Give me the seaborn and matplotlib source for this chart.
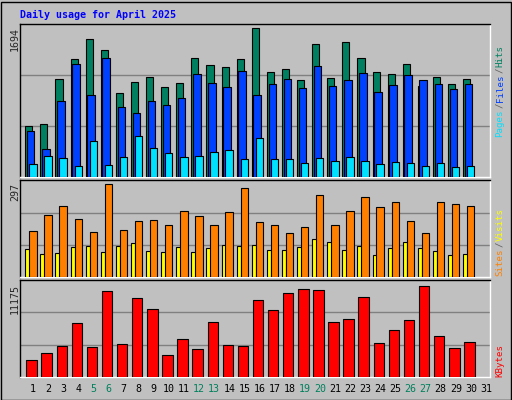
import numpy as np
import matplotlib
matplotlib.use('Agg')
import matplotlib.pyplot as plt
import seaborn as sns

days = list(range(1, 32))
weekend = [5, 6, 12, 13, 19, 20, 26, 27]

# values (30 days, day 31 empty)
hits = [578, 601, 1121, 1340, 1571, 1444, 955, 1082, 1140, 1024, 1070, 1359, 1278, 1255, 1348, 1694, 1197, 1232, 1104, 1521, 1128, 1544, 1359, 1197, 1174, 1290, 1035, 1140, 1059, 1121]
files = [520, 322, 862, 1290, 932, 1359, 793, 735, 862, 816, 897, 1174, 1070, 1024, 1209, 932, 1059, 1117, 1013, 1267, 1035, 1105, 1186, 966, 1047, 1163, 1105, 1059, 1001, 1059]
pages = [146, 239, 216, 123, 412, 135, 227, 470, 331, 274, 227, 239, 285, 308, 204, 447, 204, 204, 158, 216, 181, 227, 181, 146, 170, 158, 123, 158, 112, 123]
sites = [148, 200, 229, 187, 145, 297, 152, 178, 184, 168, 210, 194, 165, 207, 284, 175, 168, 142, 161, 262, 168, 213, 255, 225, 241, 180, 142, 241, 235, 229]
visits = [90, 74, 77, 97, 100, 81, 100, 110, 84, 81, 97, 81, 94, 103, 100, 103, 87, 87, 97, 123, 113, 87, 100, 71, 94, 113, 94, 84, 71, 74]
kbytes = [2087, 2947, 3807, 6631, 3684, 10560, 4052, 9700, 8350, 2701, 4666, 3438, 6754, 3930, 3807, 9455, 8227, 10314, 10806, 10683, 6754, 7122, 9823, 4175, 5771, 6999, 11175, 5034, 3561, 4298]

sns.set_style('white')
plt.rcParams['font.family'] = ['DejaVu Sans Mono']

BG = '#c0c0c0'
GRID = '#808080'
fig = plt.figure(figsize=(5.12, 4.0), dpi=100, facecolor=BG)
W, H = 512, 400

def add_ax(top, bottom):
    ax = fig.add_axes([20 / W, 1 - bottom / H, 470 / W, (bottom - top) / H])
    ax.set_facecolor(BG)
    ax.set_xlim(0.14, 31.27)
    ax.set_xticks([])
    ax.set_yticks([])
    for s in ax.spines.values():
        s.set_color('black')
        s.set_linewidth(1)
    ax.spines['bottom'].set_color('white')
    ax.spines['right'].set_color('white')
    return ax

d = np.array(days[:30])
kw = dict(align='edge', edgecolor='black', linewidth=0.8, zorder=3)

ax1 = add_ax(24, 177)
ax1.set_ylim(0, 1694 * 151 / 146.7)
for g in [1694 / 3 * 1.03, 1694 * 2 / 3 * 1.03]:
    ax1.axhline(g, color=GRID, lw=1, zorder=1)
ax1.bar(d - 0.51, hits, width=0.47, color='#008060', **kw)
ax1.bar(d - 0.40, files, width=0.5, color='#0040ff', **kw)
ax1.bar(d - 0.25, pages, width=0.49, color='#00e0ff', **kw)

ax2 = add_ax(180, 277)
ax2.set_ylim(0, 297 * 97 / 92.7)
for g in [297 / 3 * 1.03, 297 * 2 / 3 * 1.03]:
    ax2.axhline(g, color=GRID, lw=1, zorder=1)
ax2.bar(d - 0.51, visits, width=0.3, color='#ffff00', **kw)
ax2.bar(d - 0.25, sites, width=0.49, color='#ff8000', **kw)

ax3 = add_ax(280, 377)
ax3.set_ylim(0, 11175 * 97 / 91.5)
for g in [11175 / 3 * 1.06, 11175 * 2 / 3 * 1.06]:
    ax3.axhline(g, color=GRID, lw=1, zorder=1)
ax3.bar(d - 0.44, kbytes, width=0.69, color='#ff0000', **kw)

for day in days:
    x = (33 + (day - 1) * 15.1) / W
    fig.text(x, 1 - 389 / H, str(day), ha='center', va='center', fontsize=7.2,
             color='#00805c' if day in weekend else 'black')

fig.text(20 / W, 1 - 15 / H, 'Daily usage for April 2025', color='#0000ff',
         fontsize=7.2, fontweight='bold', va='center', ha='left')

for label, top in [('1694', 27), ('297', 183), ('11175', 284)]:
    fig.text(15 / W, 1 - top / H, label, rotation=90, ha='center', va='top', fontsize=7.2)

FS = 6.6
CH = FS * 100 / 72 * 0.602
def side(parts, bottom):
    y = bottom
    for txt, col in parts:
        fig.text(500 / W, 1 - y / H, txt, rotation=90, ha='center', va='bottom',
                 fontsize=FS, color=col)
        y -= len(txt) * CH + 1

side([('Pages', '#00e0ff'), ('/', '#606060'), ('Files', '#0040ff'),
      ('/', '#606060'), ('Hits', '#008060')], 137)
side([('Sites', '#ff8000'), ('/', '#606060'), ('Visits', '#ffff00')], 276)
side([('KBytes', '#ff0000')], 377)

fig.patches.append(plt.Rectangle((0.5 / W, 0.5 / H), 1 - 2 / W, 1 - 2 / H,
                                 transform=fig.transFigure, fill=False,
                                 edgecolor='black', lw=1))
fig.savefig('out.png', dpi=100, facecolor=BG)
